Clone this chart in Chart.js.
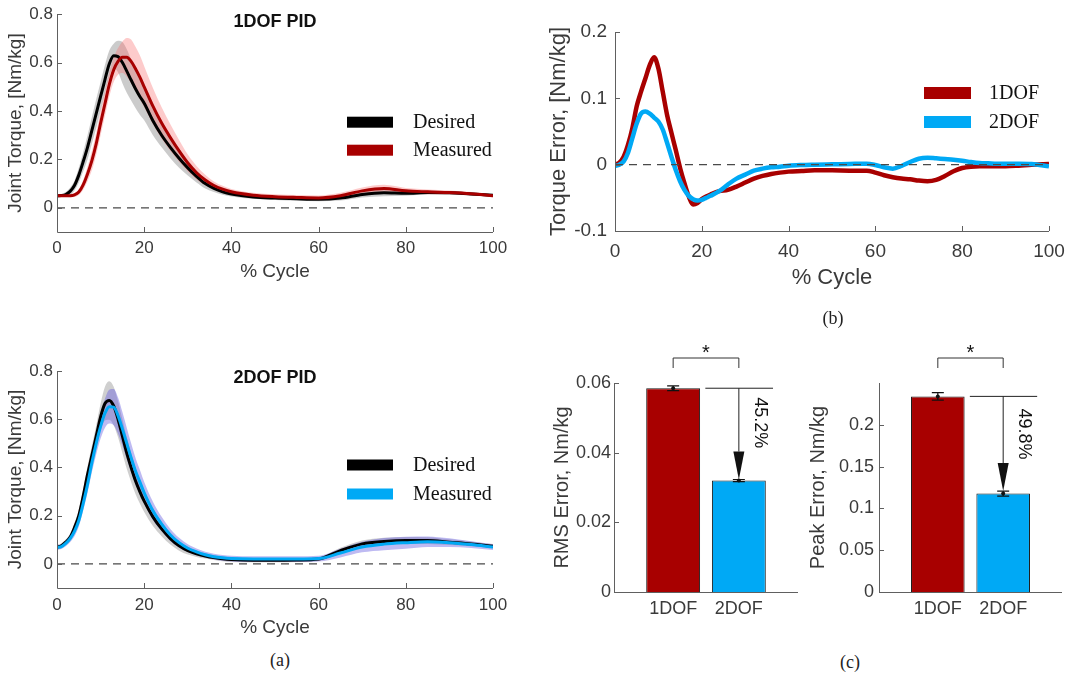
<!DOCTYPE html>
<html><head><meta charset="utf-8">
<script src="https://cdn.jsdelivr.net/npm/chart.js@4.4.1/dist/chart.umd.min.js"></script>
<style>
html,body{margin:0;padding:0;background:#fff;}
body{width:1075px;height:673px;position:relative;overflow:hidden;}
.cv{position:absolute;}
.lbl{position:absolute;font-family:'Liberation Serif','Times New Roman',serif;font-size:18px;color:#222;transform:translate(-50%,-50%);white-space:nowrap;}
</style></head><body>
<div class="cv" style="left:0;top:0;width:520px;height:290px"><canvas id="cA"></canvas></div>
<div class="cv" style="left:535px;top:0;width:540px;height:300px"><canvas id="cB"></canvas></div>
<div class="cv" style="left:0;top:350px;width:520px;height:290px"><canvas id="cC"></canvas></div>
<div class="cv" style="left:540px;top:330px;width:265px;height:300px"><canvas id="cD"></canvas></div>
<div class="cv" style="left:795px;top:330px;width:280px;height:300px"><canvas id="cE"></canvas></div>
<div class="lbl" style="left:280px;top:660px">(a)</div>
<div class="lbl" style="left:833px;top:318px">(b)</div>
<div class="lbl" style="left:850px;top:662px">(c)</div>
<script>
// ---------------- data ----------------
const xA = [0,1,2,3,4,5,6,7,8,9,10,11,12,13,14,15,16,17,18,19,20,22,24,26,28,30,32,34,36,38,40,45,50,55,60,65,70,75,80,85,90,95,100];

const desired1 = [0.050,0.051,0.055,0.068,0.092,0.135,0.19,0.25,0.32,0.39,0.46,0.53,0.595,0.628,0.625,0.60,0.565,0.528,0.492,0.46,0.432,
  0.36,0.30,0.25,0.205,0.165,0.13,0.10,0.08,0.066,0.057,
  0.045,0.04,0.037,0.035,0.04,0.055,0.062,0.06,0.063,0.062,0.057,0.052];
const desired1Sd = [0.005,0.006,0.01,0.015,0.02,0.03,0.04,0.05,0.055,0.06,0.06,0.06,0.055,0.05,0.065,0.085,0.09,0.085,0.08,0.075,0.07,
  0.06,0.05,0.045,0.04,0.032,0.025,0.02,0.015,0.012,0.01,
  0.008,0.008,0.008,0.008,0.01,0.012,0.014,0.01,0.008,0.006,0.006,0.005];
const measured1 = [0.05,0.05,0.05,0.05,0.053,0.065,0.095,0.14,0.195,0.265,0.35,0.43,0.51,0.57,0.605,0.622,0.622,0.605,0.575,0.54,0.50,
  0.42,0.35,0.29,0.235,0.185,0.145,0.115,0.092,0.077,0.066,
  0.052,0.046,0.043,0.041,0.05,0.07,0.08,0.07,0.066,0.063,0.058,0.05];
const measured1Sd = [0.005,0.005,0.005,0.006,0.008,0.012,0.02,0.03,0.04,0.045,0.05,0.05,0.05,0.05,0.055,0.065,0.08,0.09,0.09,0.09,0.085,
  0.075,0.065,0.055,0.045,0.035,0.028,0.022,0.017,0.014,0.012,
  0.01,0.01,0.01,0.01,0.012,0.014,0.015,0.012,0.01,0.008,0.007,0.006];

const desired2 = [0.07,0.075,0.09,0.11,0.15,0.20,0.28,0.37,0.45,0.53,0.61,0.665,0.678,0.655,0.60,0.53,0.46,0.40,0.345,0.30,0.26,
  0.195,0.145,0.105,0.075,0.055,0.042,0.033,0.026,0.021,0.018,
  0.015,0.015,0.016,0.02,0.055,0.083,0.093,0.097,0.097,0.09,0.083,0.073];
const desired2Sd = [0.01,0.01,0.012,0.015,0.02,0.025,0.03,0.035,0.04,0.045,0.055,0.07,0.08,0.08,0.075,0.07,0.065,0.06,0.055,0.05,0.045,
  0.038,0.03,0.025,0.02,0.016,0.013,0.011,0.01,0.01,0.01,
  0.008,0.008,0.008,0.008,0.012,0.014,0.015,0.015,0.014,0.012,0.01,0.008];
const measured2 = [0.068,0.072,0.085,0.105,0.135,0.18,0.25,0.33,0.42,0.50,0.57,0.625,0.652,0.65,0.615,0.56,0.50,0.44,0.385,0.34,0.295,
  0.22,0.165,0.12,0.088,0.065,0.05,0.038,0.03,0.025,0.022,
  0.02,0.02,0.02,0.022,0.045,0.07,0.082,0.088,0.092,0.088,0.08,0.07];
const measured2Sd = [0.01,0.01,0.012,0.015,0.02,0.025,0.03,0.035,0.04,0.045,0.05,0.06,0.07,0.075,0.075,0.07,0.065,0.06,0.055,0.05,0.045,
  0.038,0.03,0.025,0.02,0.016,0.014,0.012,0.012,0.012,0.012,
  0.012,0.012,0.012,0.012,0.018,0.022,0.025,0.025,0.022,0.018,0.014,0.012];

const xB = [0,1,2,3,4,5,6,7,8,9,10,11,12,13,14,15,16,17,18,19,20,21,22,24,26,28,30,32,34,36,38,40,43,46,50,54,58,
  60,62,64,66,68,70,72,74,76,78,80,82,84,86,88,90,93,96,100];
const error1 = [0,0.003,0.012,0.03,0.055,0.088,0.11,0.13,0.15,0.162,0.145,0.11,0.075,0.048,0.022,-0.005,-0.028,-0.048,-0.06,-0.058,-0.052,-0.048,-0.045,
  -0.04,-0.038,-0.033,-0.027,-0.021,-0.017,-0.014,-0.012,-0.0105,
  -0.0095,-0.0085,-0.0085,-0.009,-0.009,
  -0.012,-0.016,-0.019,-0.021,-0.022,-0.024,-0.025,-0.023,-0.017,-0.01,-0.005,-0.003,-0.0025,-0.0025,-0.0025,-0.0025,
  -0.0015,0,0.001];
const error2 = [-0.002,0,0.005,0.018,0.04,0.062,0.077,0.08,0.077,0.071,0.065,0.053,0.033,0.012,-0.008,-0.025,-0.038,-0.047,-0.052,-0.054,-0.053,-0.05,-0.047,
  -0.04,-0.03,-0.021,-0.015,-0.009,-0.006,-0.004,-0.003,-0.0015,
  -0.0005,0,0.0005,0.001,0.0015,
  -0.0005,-0.004,-0.006,-0.002,0.004,0.009,0.0105,0.0095,0.0085,0.0075,0.006,0.004,0.0025,0.002,0.0015,0.0015,
  0.0015,0.001,-0.0025];

const barCategories = ['1DOF','2DOF'];
const rmsMean = [0.0585, 0.032];
const rmsSd = [0.0007, 0.0003];
const peakMean = [0.234, 0.1177];
const peakSd = [0.0045, 0.003];
const rmsReduction = '45.2%';
const peakReduction = '49.8%';

const cycleTicks = [0,20,40,60,80,100];
const torqueTicks = [0,0.2,0.4,0.6,0.8];
const errorTicks = [-0.1,0,0.1,0.2];
const rmsTicks = [0,0.02,0.04,0.06];
const peakTicks = [0,0.05,0.1,0.15,0.2];
const zeroX = [0,100];
const zeroY = [0,0];

// ---------------- style ----------------
const SANS = "'Liberation Sans', Arial, Helvetica, sans-serif";
const SERIF = "'Liberation Serif', 'Times New Roman', serif";
const RED = '#A80000', BLUE = '#00A9F5', TXT = '#3a3a3a', AX = '#606060';
const fmt = v => String(Math.round(v * 1000) / 1000);
const pts = (xs, ys) => xs.map((x, i) => ({x, y: ys[i]}));
const shift = (ys, sd, k) => ys.map((v, i) => v + k * sd[i]);

const axesPlugin = {
  id: 'matAxes',
  afterDatasetsDraw(chart, args, o) {
    const {ctx, chartArea: a, scales} = chart;
    const tl = 5;
    ctx.save();
    ctx.strokeStyle = AX; ctx.lineWidth = 1;
    ctx.beginPath();
    ctx.moveTo(a.left + 0.5, a.top); ctx.lineTo(a.left + 0.5, a.bottom + 0.5); ctx.lineTo(a.right, a.bottom + 0.5);
    scales.y.ticks.forEach(t => { const y = Math.round(scales.y.getPixelForValue(t.value)) + 0.5; ctx.moveTo(a.left, y); ctx.lineTo(a.left + tl, y); });
    if (!o.noXTicks) scales.x.ticks.forEach(t => { const x = Math.round(scales.x.getPixelForValue(t.value)) + 0.5; ctx.moveTo(x, a.bottom); ctx.lineTo(x, a.bottom - tl); });
    ctx.stroke();
    ctx.restore();
  }
};

const legendPlugin = {
  id: 'matLegend',
  afterDraw(chart, args, o) {
    const {ctx, chartArea: a} = chart;
    ctx.save();
    if (o.dx !== undefined) {
      const items = chart.data.datasets.filter(d => d.inLegend);
      items.forEach((d, i) => {
        const y = a.top + o.dy + i * o.gap;
        ctx.fillStyle = d.borderColor;
        ctx.fillRect(a.left + o.dx, y - o.h / 2, o.w, o.h);
        ctx.fillStyle = '#111';
        ctx.font = '20px ' + SERIF;
        ctx.textAlign = 'left'; ctx.textBaseline = 'middle';
        ctx.fillText(d.label, a.left + o.tx, y + 1);
      });
    }
    if (o.title) {
      ctx.fillStyle = '#111';
      ctx.font = 'bold 18px ' + SANS;
      ctx.textAlign = 'center'; ctx.textBaseline = 'middle';
      ctx.fillText(o.title, (a.left + a.right) / 2, a.top + o.titleDy);
    }
    ctx.restore();
  }
};

const barPlugin = {
  id: 'matBars',
  afterDatasetsDraw(chart, args, o) {
    const {ctx, chartArea: a, scales: {x, y}} = chart;
    const meta = chart.getDatasetMeta(0);
    const m = o.means, s = o.sds;
    ctx.save();
    ctx.strokeStyle = '#111'; ctx.fillStyle = '#111'; ctx.lineWidth = 1.2;
    meta.data.forEach((el, i) => {
      const cx = el.x, yt = y.getPixelForValue(m[i] + s[i]), yb = y.getPixelForValue(m[i] - s[i]);
      ctx.beginPath();
      ctx.moveTo(cx, yt); ctx.lineTo(cx, yb);
      ctx.moveTo(cx - 6, yt); ctx.lineTo(cx + 6, yt);
      ctx.moveTo(cx - 6, yb); ctx.lineTo(cx + 6, yb);
      ctx.stroke();
      ctx.beginPath(); ctx.arc(cx, y.getPixelForValue(m[i]), 2, 0, Math.PI * 2); ctx.fill();
    });
    const x1 = meta.data[0].x, x2 = meta.data[1].x;
    ctx.lineWidth = 1;
    ctx.strokeStyle = '#333';
    ctx.beginPath();
    ctx.moveTo(x1, a.top - 15); ctx.lineTo(x1, a.top - 25); ctx.lineTo(x2, a.top - 25); ctx.lineTo(x2, a.top - 15);
    ctx.stroke();
    ctx.fillStyle = '#111';
    ctx.font = '20px ' + SANS; ctx.textAlign = 'center'; ctx.textBaseline = 'middle';
    ctx.fillText('*', (x1 + x2) / 2, a.top - 30);
    const yr = y.getPixelForValue(m[0]);
    ctx.strokeStyle = '#222';
    ctx.beginPath();
    ctx.moveTo(x.getPixelForValue(1.49), yr); ctx.lineTo(x.getPixelForValue(2.52), yr);
    ctx.stroke();
    const tip = y.getPixelForValue(m[1] + s[1]);
    const hl = 28, hw = 5.5;
    ctx.beginPath(); ctx.moveTo(x2, yr); ctx.lineTo(x2, tip - hl); ctx.stroke();
    ctx.beginPath(); ctx.moveTo(x2, tip); ctx.lineTo(x2 - hw, tip - hl); ctx.lineTo(x2 + hw, tip - hl); ctx.closePath(); ctx.fill();
    ctx.save();
    ctx.translate(x2 + 21, yr + o.labelDy);
    ctx.rotate(Math.PI / 2);
    ctx.textAlign = 'left'; ctx.textBaseline = 'middle';
    ctx.font = '18px ' + SANS;
    ctx.fillText(o.label, 0, 0);
    ctx.restore();
    ctx.restore();
  }
};

function lineChart(id, c) {
  return new Chart(document.getElementById(id), {
    type: 'line',
    data: {datasets: c.datasets},
    plugins: [axesPlugin, legendPlugin],
    options: {
      responsive: true, maintainAspectRatio: false, animation: false,
      layout: {padding: c.pad},
      elements: {point: {radius: 0}},
      scales: {
        x: {type: 'linear', min: 0, max: 100,
          afterBuildTicks: s => { s.ticks = cycleTicks.map(v => ({value: v})); },
          afterFit: s => { s.height = c.xh; },
          grid: {display: false, drawTicks: false}, border: {display: false},
          ticks: {autoSkip: false, maxRotation: 0, padding: c.xtp, color: TXT, font: {family: SANS, size: c.tick}, callback: v => fmt(v)},
          title: {display: true, text: '% Cycle', color: TXT, font: {family: SANS, size: c.title}, padding: {top: 0, bottom: c.xtb}}},
        y: {type: 'linear', min: c.ymin, max: c.ymax,
          afterBuildTicks: s => { s.ticks = c.yticks.map(v => ({value: v})); },
          afterFit: s => { s.width = c.yw; },
          grid: {display: false, drawTicks: false}, border: {display: false},
          ticks: {autoSkip: false, padding: c.ytp, color: TXT, font: {family: SANS, size: c.tick}, callback: v => fmt(v)},
          title: {display: true, text: c.ytitle, color: TXT, font: {family: SANS, size: c.title}, padding: {top: c.ytt, bottom: 0}}}
      },
      plugins: {legend: {display: false}, tooltip: {enabled: false}, matLegend: c.legend, matAxes: {}}
    }
  });
}

function bandSets(xs, mean, sd, color, order) {
  return [
    {data: pts(xs, shift(mean, sd, 1)), borderWidth: 0, fill: '+1', backgroundColor: color, order, cubicInterpolationMode: 'monotone'},
    {data: pts(xs, shift(mean, sd, -1)), borderWidth: 0, fill: false, order, cubicInterpolationMode: 'monotone'}
  ];
}
function zeroSet() {
  return {data: pts(zeroX, zeroY), borderColor: '#4a4a4a', borderWidth: 1.3, borderDash: [8, 6], fill: false, order: -1};
}

// (a) top: 1DOF PID
lineChart('cA', {
  pad: {left: 0, top: 14, right: 27, bottom: 0}, xh: 58, yw: 57, xtp: 6, xtb: 7, ytp: 4, ytt: 4,
  tick: 17, title: 19, ymin: -0.1, ymax: 0.8, yticks: torqueTicks, ytitle: 'Joint Torque, [Nm/kg]',
  legend: {dx: 290, dy: 108, gap: 28, w: 46, h: 11, tx: 356, title: '1DOF PID', titleDy: 8},
  datasets: [
    {label: 'Desired', inLegend: true, data: pts(xA, desired1), borderColor: '#000', borderWidth: 3, fill: false, order: 1, cubicInterpolationMode: 'monotone'},
    {label: 'Measured', inLegend: true, data: pts(xA, measured1), borderColor: RED, borderWidth: 3, fill: false, order: 0, cubicInterpolationMode: 'monotone'},
    zeroSet(),
    ...bandSets(xA, desired1, desired1Sd, 'rgba(130,130,130,0.42)', 4),
    ...bandSets(xA, measured1, measured1Sd, 'rgba(250,110,110,0.36)', 3)
  ]
});

// (a) bottom: 2DOF PID
lineChart('cC', {
  pad: {left: 0, top: 21, right: 27, bottom: 0}, xh: 52, yw: 57, xtp: 7, xtb: 1, ytp: 4, ytt: 4,
  tick: 17, title: 19, ymin: -0.1, ymax: 0.8, yticks: torqueTicks, ytitle: 'Joint Torque, [Nm/kg]',
  legend: {dx: 290, dy: 94, gap: 29, w: 46, h: 11, tx: 356, title: '2DOF PID', titleDy: 7},
  datasets: [
    {label: 'Desired', inLegend: true, data: pts(xA, desired2), borderColor: '#000', borderWidth: 3, fill: false, order: 1, cubicInterpolationMode: 'monotone'},
    {label: 'Measured', inLegend: true, data: pts(xA, measured2), borderColor: BLUE, borderWidth: 3, fill: false, order: 0, cubicInterpolationMode: 'monotone'},
    zeroSet(),
    ...bandSets(xA, desired2, desired2Sd, 'rgba(130,130,130,0.38)', 4),
    ...bandSets(xA, measured2, measured2Sd, 'rgba(100,90,225,0.42)', 3)
  ]
});

// (b) torque error
lineChart('cB', {
  pad: {left: 0, top: 32, right: 26, bottom: 0}, xh: 69, yw: 80, xtp: 9, xtb: 9, ytp: 8, ytt: 11,
  tick: 19, title: 22, ymin: -0.1, ymax: 0.2, yticks: errorTicks, ytitle: 'Torque Error, [Nm/kg]',
  legend: {dx: 309, dy: 61, gap: 29, w: 47, h: 12, tx: 374},
  datasets: [
    {label: '1DOF', inLegend: true, data: pts(xB, error1), borderColor: RED, borderWidth: 4.5, fill: false, order: 1, cubicInterpolationMode: 'monotone'},
    {label: '2DOF', inLegend: true, data: pts(xB, error2), borderColor: BLUE, borderWidth: 4.5, fill: false, order: 0, cubicInterpolationMode: 'monotone'},
    zeroSet()
  ]
});

function barChart(id, c) {
  return new Chart(document.getElementById(id), {
    type: 'bar',
    data: {datasets: [{
      data: c.means.map((v, i) => ({x: i + 1, y: v})),
      backgroundColor: [RED, BLUE], borderColor: '#1a1a1a', borderWidth: 1,
      barPercentage: 0.82, categoryPercentage: 1
    }]},
    plugins: [axesPlugin, barPlugin],
    options: {
      responsive: true, maintainAspectRatio: false, animation: false,
      layout: {padding: c.pad},
      scales: {
        x: {type: 'linear', min: 0.1, max: 2.9, offset: false,
          afterBuildTicks: s => { s.ticks = barCategories.map((n, i) => ({value: i + 1})); },
          afterFit: s => { s.height = 38; },
          grid: {display: false, drawTicks: false, offset: false}, border: {display: false},
          ticks: {autoSkip: false, maxRotation: 0, padding: 6, color: TXT, font: {family: SANS, size: 18}, callback: v => barCategories[Math.round(v) - 1]}},
        y: {type: 'linear', min: 0, max: c.ymax,
          afterBuildTicks: s => { s.ticks = c.yticks.map(v => ({value: v})); },
          afterFit: s => { s.width = c.yw; },
          grid: {display: false, drawTicks: false}, border: {display: false},
          ticks: {autoSkip: false, padding: c.ytp, color: TXT, font: {family: SANS, size: 18}, callback: v => fmt(v)},
          title: {display: true, text: c.ytitle, color: TXT, font: {family: SANS, size: 20}, padding: {top: c.ytt, bottom: 0}}}
      },
      plugins: {legend: {display: false}, tooltip: {enabled: false}, matAxes: {noXTicks: true},
        matBars: {means: c.means, sds: c.sds, label: c.label, labelDy: c.labelDy}}
    }
  });
}

barChart('cD', {pad: {left: 0, top: 53, right: 7, bottom: 0}, yw: 74, ytp: 3, ytt: 10,
  ymax: 0.06, yticks: rmsTicks, ytitle: 'RMS Error, Nm/kg', means: rmsMean, sds: rmsSd, label: rmsReduction, labelDy: 9});
barChart('cE', {pad: {left: 0, top: 53, right: 13, bottom: 0}, yw: 84, ytp: 5, ytt: 11,
  ymax: 0.25, yticks: peakTicks, ytitle: 'Peak Error, Nm/kg', means: peakMean, sds: peakSd, label: peakReduction, labelDy: 12});
</script>
</body></html>
